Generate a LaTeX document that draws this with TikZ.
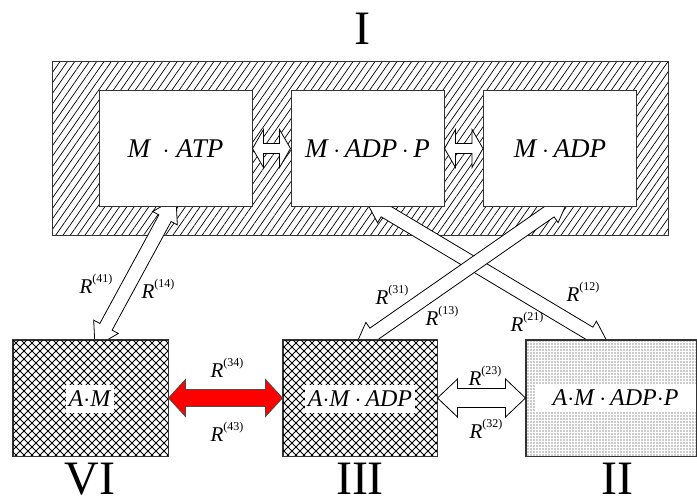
\documentclass[tikz,border=0pt]{standalone}
\usepackage{fontspec}
\setmainfont{Liberation Serif}
\usetikzlibrary{calc,patterns.meta}
\newcommand{\fatdbl}[6]{%
\draw[#1] (#2) -- ($(#2)!#6!(#3)!#5!90:(#3)$) -- ($(#2)!#6!(#3)!#4!90:(#3)$)
 -- ($(#3)!#6!(#2)!#4!-90:(#2)$) -- ($(#3)!#6!(#2)!#5!-90:(#2)$) -- (#3)
 -- ($(#3)!#6!(#2)!#5!90:(#2)$) -- ($(#3)!#6!(#2)!#4!90:(#2)$)
 -- ($(#2)!#6!(#3)!#4!-90:(#3)$) -- ($(#2)!#6!(#3)!#5!-90:(#3)$) -- cycle;}
\newcommand{\Rl}[1]{\textit{R}\raisebox{0.55em}{\fontsize{12}{12}\selectfont(#1)}}
\tikzset{
  inbox/.style={draw=black!80, line width=1pt, fill=white, minimum width=153pt, minimum height=115pt, inner sep=0pt, font=\fontsize{27}{27}\selectfont},
  lowbox/.style={draw=black!80, line width=1pt, fill=white, minimum height=116pt, inner sep=0pt},
  lowtxt/.style={fill=white, inner xsep=3pt, inner ysep=2pt, minimum height=28pt, font=\fontsize{24}{24}\selectfont},
  roman/.style={font=\fontsize{48}{48}\selectfont, anchor=base, inner sep=0pt},
  rlab/.style={font=\fontsize{21}{21}\selectfont, inner sep=0pt},
  whitearrow/.style={draw=black, line width=0.8pt, fill=white, line join=miter},
  redarrow/.style={draw=black!70, line width=0.8pt, fill=red, line join=miter},
  xhatch/.style={pattern={Lines[angle=#1,distance=5.657pt,line width=0.8pt]}},
}
\begin{document}
\begin{tikzpicture}[x=1pt,y=-1pt]
\useasboundingbox (0,0) rectangle (697,503);
% outer block I
\node[draw=black!80, line width=1pt, minimum width=616pt, minimum height=173pt, inner sep=0pt,
      pattern={Lines[angle=55,distance=6pt,line width=0.7pt]}] (outer) at (360,148.5) {};
\node[roman] (nI) at (362,45) {I};
% diagonal arrow coordinates
\coordinate (d41a) at (95,347);
\coordinate (d41b) at (176,198);
\coordinate (d13a) at (355,347);
\coordinate (d13b) at (569,198);
\coordinate (d12a) at (365,199);
\coordinate (d12b) at (609,345);
\fatdbl{whitearrow}{d41a}{d41b}{7pt}{14pt}{23pt}
\fatdbl{whitearrow}{d12a}{d12b}{7pt}{14pt}{23pt}
\fatdbl{whitearrow}{d13a}{d13b}{7pt}{14pt}{23pt}
% inner boxes
\node[inbox] (b1) at (175.5,148.5) {\textit{M}\, $\cdot$ \textit{ATP}};
\node[inbox] (b2) at (367.5,148.5) {\textit{M}\,$\cdot$\,\textit{ADP}\,$\cdot$\,\textit{P}};
\node[inbox] (b3) at (560,148.5) {\textit{M}\,$\cdot$\,\textit{ADP}};
\fatdbl{whitearrow}{b1.east}{b2.west}{5pt}{19pt}{11pt}
\fatdbl{whitearrow}{b2.east}{b3.west}{5pt}{19pt}{11pt}
% lower boxes
\node[lowbox, minimum width=155pt] (vi) at (90.5,398) {};
\node[lowbox, minimum width=154pt] (iii) at (360,398) {};
\node[lowbox, minimum width=170pt] (ii) at (611,398) {};
\fill[xhatch=45] (vi.north west) rectangle (vi.south east);
\fill[xhatch=-45] (vi.north west) rectangle (vi.south east);
\fill[xhatch=45] (iii.north west) rectangle (iii.south east);
\fill[xhatch=-45] (iii.north west) rectangle (iii.south east);
\fill[pattern={Dots[distance=3pt,radius=0.6pt]}, pattern color=black!85] (ii.north west) rectangle (ii.south east);
\draw[draw=black!80, line width=1pt] (vi.north west) rectangle (vi.south east);
\draw[draw=black!80, line width=1pt] (iii.north west) rectangle (iii.south east);
\draw[draw=black!80, line width=1pt] (ii.north west) rectangle (ii.south east);
\node[lowtxt] (tvi) at (90,399) {\textit{A}$\cdot$\textit{M}};
\node[lowtxt] (tiii) at (360,399) {\textit{A}$\cdot$\textit{M}\,$\cdot$\,\textit{ADP}};
\node[lowtxt, minimum width=161pt] (tii) at (615.5,398) {\textit{A}$\cdot$\textit{M}\,$\cdot$\,\textit{ADP}$\cdot$\textit{P}};
\fatdbl{redarrow}{vi.east}{iii.west}{8.5pt}{18.5pt}{17pt}
\fatdbl{whitearrow}{iii.east}{ii.west}{9.5pt}{19pt}{20pt}
% roman numerals
\node[roman] (nVI) at (90,494) {VI};
\node[roman] (nIII) at (360,494) {III};
\node[roman] (nII) at (617,494) {II};
% R labels
\node[rlab] (r41) at (96,284) {\Rl{41}};
\node[rlab] (r14) at (158,289) {\Rl{14}};
\node[rlab] (r31) at (392,295) {\Rl{31}};
\node[rlab] (r13) at (442,316) {\Rl{13}};
\node[rlab] (r12) at (583,292) {\Rl{12}};
\node[rlab] (r21) at (527,322) {\Rl{21}};
\node[rlab] (r23) at (485,376) {\Rl{23}};
\node[rlab] (r32) at (486,429) {\Rl{32}};
\node[rlab] (r34) at (227,368) {\Rl{34}};
\node[rlab] (r43) at (227,432) {\Rl{43}};
\end{tikzpicture}
\end{document}
